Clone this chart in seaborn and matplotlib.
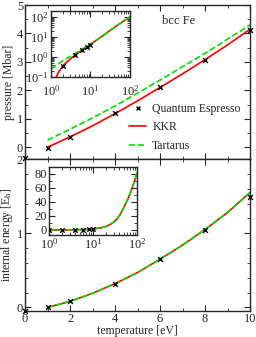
import numpy as np
import seaborn as sns
import matplotlib as mpl
mpl.use('Agg')
import matplotlib.pyplot as plt
import matplotlib.ticker as mticker
from matplotlib.lines import Line2D

# pressure [Mbar] vs temperature [eV]
kkr_T = [1, 2, 3, 4, 5, 6, 7, 8, 9, 10]
kkr_P = [0.0, 0.36, 0.75, 1.18, 1.63, 2.1, 2.58, 3.08, 3.6, 4.15]
tar_T = [1, 2, 3, 4, 5, 6, 7, 8, 9, 10]
tar_P = [0.25, 0.63, 1.03, 1.45, 1.9, 2.36, 2.83, 3.3, 3.8, 4.3]
qe_T = [0, 1, 2, 4, 6, 8, 10]
qe_P = [-0.38, -0.03, 0.35, 1.19, 2.1, 3.08, 4.12]

# pressure inset (log-log, up to 100 eV)
kkr_T_log = [1.1, 1.3, 1.5, 2, 3, 4, 6, 10, 20, 50, 100]
kkr_P_log = [0.03, 0.08, 0.15, 0.36, 0.75, 1.18, 2.1, 4.15, 11, 40, 100]
tar_T_log = [1, 2, 4, 6, 10, 20, 50, 100]
tar_P_log = [0.25, 0.63, 1.45, 2.36, 4.3, 11, 40, 100]
qe_T_log = [2, 4, 6, 8, 10]
qe_P_log = [0.35, 1.19, 2.1, 3.08, 4.12]

# internal energy [E_h]
kkr_U = [0.0, 0.08, 0.19, 0.32, 0.47, 0.65, 0.84, 1.05, 1.28, 1.55]
tar_U = [0.0, 0.08, 0.19, 0.32, 0.47, 0.65, 0.84, 1.05, 1.28, 1.55]
qe_U = [-0.05, 0.0, 0.08, 0.32, 0.65, 1.04, 1.49]

# internal energy inset (log x, up to 100 eV)
ins_T = [1, 2, 4, 6, 8, 10, 15, 20, 25, 30, 35, 40, 45, 50, 60, 70, 80, 90, 100]
kkr_U_ins = [0, 0.08, 0.32, 0.65, 1.05, 1.55, 3, 5, 8, 11.5, 15.5, 20.5, 26, 31.5, 42, 52, 62, 71.5, 81]
tar_U_ins = [0, 0.08, 0.32, 0.65, 1.05, 1.55, 3, 5, 8, 11.5, 15.5, 20.5, 26, 31.5, 42, 52, 62, 71.5, 81]
qe_T_ins = [1, 2, 4, 6, 8, 10]
qe_U_ins = [0, 0.08, 0.32, 0.65, 1.04, 1.49]

RED = '#ff0000'
GREEN = '#00e000'


def style_axes(ax, fs=9):
    ax.tick_params(which='both', direction='in', top=True, right=True, labelsize=fs, pad=1.5)
    ax.tick_params(which='major', length=4, width=0.8)
    ax.tick_params(which='minor', length=2, width=0.6)
    for s in ax.spines.values():
        s.set_linewidth(1.0)


def draw(ax, xs, ys, qx, qy, ms=12, clip=True):
    sns.lineplot(x=xs[0], y=ys[0], ax=ax, color=RED, lw=1.2, sort=False)
    sns.lineplot(x=xs[1], y=ys[1], ax=ax, color=GREEN, lw=1.2, ls='--', sort=False)
    sns.scatterplot(x=qx, y=qy, ax=ax, marker='x', color='black', s=ms, linewidth=1.0,
                    zorder=5, clip_on=clip)


def main():
    sns.set_style('ticks')
    plt.rcParams['font.family'] = ['Liberation Serif', 'DejaVu Serif']
    plt.rcParams['mathtext.fontset'] = 'stix'

    fig = plt.figure(figsize=(2.56, 3.37), dpi=100)
    ax1 = fig.add_axes([0.098, 0.528, 0.879, 0.457])
    ax2 = fig.add_axes([0.098, 0.077, 0.879, 0.451])

    # pressure panel
    draw(ax1, (kkr_T, tar_T), (kkr_P, tar_P), qe_T, qe_P, clip=False)
    ax1.set_xlim(0, 10)
    ax1.set_ylim(-0.42, 5)
    ax1.xaxis.set_major_locator(mticker.MultipleLocator(2))
    ax1.xaxis.set_minor_locator(mticker.MultipleLocator(1))
    ax1.yaxis.set_major_locator(mticker.MultipleLocator(1))
    ax1.yaxis.set_minor_locator(mticker.MultipleLocator(0.5))
    ax1.set_xticklabels([])
    ax1.set_xlabel('')
    ax1.set_ylabel('pressure [Mbar]', fontsize=8.5, labelpad=1)
    style_axes(ax1)
    ax1.text(0.68, 0.88, 'bcc Fe', transform=ax1.transAxes, fontsize=9, ha='center')
    handles = [Line2D([], [], ls='none', marker='x', color='black', ms=3.5, mew=1.0),
               Line2D([], [], color=RED, lw=1.2),
               Line2D([], [], color=GREEN, lw=1.2, ls='--')]
    ax1.legend(handles, ['Quantum Espresso', 'KKR', 'Tartarus'], loc='lower right',
               bbox_to_anchor=(0.99, 0.0), frameon=False, fontsize=8.5,
               handlelength=1.5, handletextpad=0.5, labelspacing=0.55, borderaxespad=0.2)

    # internal energy panel
    draw(ax2, (kkr_T, tar_T), (kkr_U, tar_U), qe_T, qe_U, clip=False)
    ax2.set_xlim(0, 10)
    ax2.set_ylim(-0.05, 2)
    ax2.xaxis.set_major_locator(mticker.MultipleLocator(2))
    ax2.xaxis.set_minor_locator(mticker.MultipleLocator(1))
    ax2.yaxis.set_major_locator(mticker.MultipleLocator(1))
    ax2.yaxis.set_minor_locator(mticker.MultipleLocator(0.2))
    ax2.set_xlabel('temperature [eV]', fontsize=8.5, labelpad=0)
    ax2.set_ylabel('internal energy [E$_\\mathrm{h}$]', fontsize=8.5, labelpad=1)
    style_axes(ax2)

    # inset pressure (log-log)
    ins1 = fig.add_axes([0.199, 0.772, 0.309, 0.196])
    draw(ins1, (kkr_T_log, tar_T_log), (kkr_P_log, tar_P_log), qe_T_log, qe_P_log, ms=10)
    ins1.set_xscale('log')
    ins1.set_yscale('log')
    ins1.set_xlim(1, 100)
    ins1.set_ylim(0.1, 200)
    ins1.yaxis.set_major_locator(mticker.LogLocator(base=10, numticks=10))
    ins1.set_xlabel('')
    ins1.set_ylabel('')
    style_axes(ins1)
    ins1.tick_params(axis='x', pad=5)

    # inset internal energy (log x)
    ins2 = fig.add_axes([0.191, 0.303, 0.344, 0.202])
    draw(ins2, (ins_T, ins_T), (kkr_U_ins, tar_U_ins), qe_T_ins, qe_U_ins, ms=10)
    ins2.set_xscale('log')
    ins2.set_xlim(1, 100)
    ins2.set_ylim(-7, 90)
    ins2.yaxis.set_major_locator(mticker.MultipleLocator(20))
    ins2.yaxis.set_minor_locator(mticker.MultipleLocator(10))
    ins2.set_xlabel('')
    ins2.set_ylabel('')
    style_axes(ins2)

    fig.savefig('out.png', dpi=100)


if __name__ == '__main__':
    main()
